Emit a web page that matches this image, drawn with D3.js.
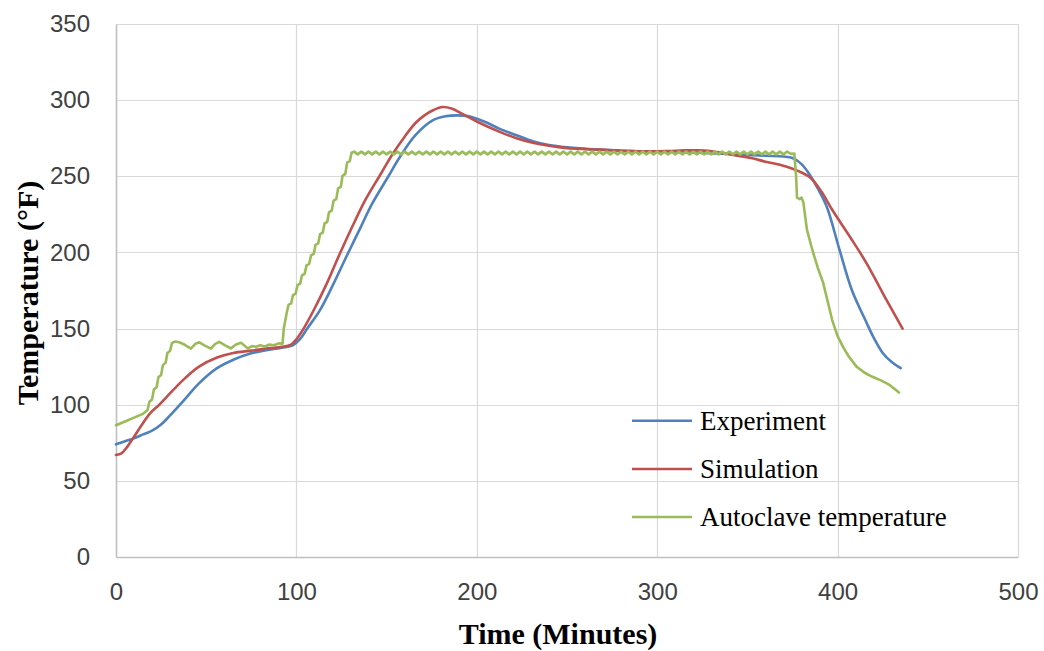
<!DOCTYPE html>
<html>
<head>
<meta charset="utf-8">
<script src="https://cdn.jsdelivr.net/npm/d3@7"></script>
<style>
  html, body { margin: 0; padding: 0; background: #fff; }
  svg { display: block; }
</style>
</head>
<body>
<svg id="chart" width="1044" height="651"></svg>
<script>
// ---- data ----
const xTicks = [0, 100, 200, 300, 400, 500];
const yTicks = [0, 50, 100, 150, 200, 250, 300, 350];
const seriesNames = ["Experiment", "Simulation", "Autoclave temperature"];

const experiment = [
  [0,74],[5,76],[10,78],[15,80.5],[20,83],[25,87],[30,93],[37,102],[46,114],[56,124],
  [65,129.5],[74,133.5],[84,136],[92,137.5],[98,139],[102,143],[106,150],[113,162],
  [120,178],[128,198],[135,215],[142,232],[151,250],[157,262],[166,277],[176,287],
  [183,289.5],[189,290],[195,289.5],[204,286],[213,281],[222,277],[231,273],[240,270.5],
  [250,269],[268,267.5],[286,266.5],[305,266],[323,265.5],[342,264.5],[360,263.5],
  [370,263],[375,262],[380,258],[384,252],[389,242],[394,230],[401,202],[408,175],
  [416,154],[420,144],[425,134],[430,128],[435,124]
];

const simulation = [
  [0,67],[3,68],[6,72],[10,79],[15,88],[19,94.5],[24,100],[28,105],[37,116],[46,125],
  [56,131],[65,134],[75,135.5],[84,137],[92,138],[97,139.5],[100,143],[104,150],[110,163],
  [117,180],[124,199],[131,217],[138,234],[147,252],[153,264],[160,276],[166,285],[171,290],
  [176,293.5],[181,295.5],[186,294.5],[192,291],[200,286],[213,279],[222,275],[231,272],
  [240,270],[250,268.5],[268,267.5],[286,266.5],[305,266.5],[315,267],[323,267],[333,266],
  [342,264],[352,262],[360,259.6],[368,257.5],[375,255],[380,252.5],[385,249],[391,240],
  [397,228],[407,210],[416,193],[427,169],[436,150]
];

const autoclave = [
  [0,86.5],[5,89],[10,91.5],[15,94],[17.5,96.5],[18.5,102],[20,103.5],[21,110],[22.5,111.5],
  [23.5,118],[25,119.5],[26,126],[27.5,127.5],[28.5,134],[30,135.5],[31,140.5],[32.5,141.5],
  [35,141],[37.9,139.5],[41.5,136.8],[44,140],[46.2,141],[49,139],[52.6,136.8],[55,140],
  [57.2,141.3],[60.5,139],[63.7,137],[66.5,139.5],[69.3,140.7],[71,139],[73,137],[75.5,138.5],
  [77.6,138],[80,139],[82.5,138.2],[85,139.5],[87.5,139],[90.5,140.3],[92.3,140],[93,150],
  [94.6,160],[95.6,165.5],[97.1,166.5],[98.1,172],[99.6,173],[100.6,178.5],[102.1,179.5],
  [103.1,185],[104.6,186],[105.6,191.5],[107.1,192.5],[108.1,198],[109.6,199],[110.6,205],
  [112.1,206],[113.1,212],[114.6,213],[115.6,219],[117.1,220],[118.1,226.5],[119.6,227.5],
  [120.6,234],[122.1,235],[123.1,242],[124.6,243],[125.6,250.5],[127.1,251.5],[128.1,259],
  [129.6,260],[130.6,265.5],
  [132,266.2],[134,264.4],[136,266.2],[138,264.4],[140,266.2],[142,264.4],[144,266.2],[146,264.4],
  [148,266.2],[150,264.4],[152,266.2],[154,264.4],[156,266.2],[158,264.4],[160,266.2],[162,264.4],
  [164,266.2],[166,264.4],[168,266.2],[170,264.4],[172,266.2],[174,264.4],[176,266.2],[178,264.4],
  [180,266.2],[182,264.4],[184,266.2],[186,264.4],[188,266.2],[190,264.4],[192,266.2],[194,264.4],
  [196,266.2],[198,264.4],[200,266.2],[202,264.4],[204,266.2],[206,264.4],[208,266.2],[210,264.4],
  [212,266.2],[214,264.4],[216,266.2],[218,264.4],[220,266.2],[222,264.4],[224,266.2],[226,264.4],
  [228,266.2],[230,264.4],[232,266.2],[234,264.4],[236,266.2],[238,264.4],[240,266.2],[242,264.4],
  [244,266.2],[246,264.4],[248,266.2],[250,264.4],[252,266.2],[254,264.4],[256,266.2],[258,264.4],
  [260,266.2],[262,264.4],[264,266.2],[266,264.4],[268,266.2],[270,264.4],[272,266.2],[274,264.4],
  [276,266.2],[278,264.4],[280,266.2],[282,264.4],[284,266.2],[286,264.4],[288,266.2],[290,264.4],
  [292,266.2],[294,264.4],[296,266.2],[298,264.4],[300,266.2],[302,264.4],[304,266.2],[306,264.4],
  [308,266.2],[310,264.4],[312,266.2],[314,264.4],[316,266.2],[318,264.4],[320,266.2],[322,264.4],
  [324,266.2],[326,264.4],[328,266.2],[330,264.4],[332,266.2],[334,264.4],[336,266.2],[338,264.4],
  [340,266.2],[342,264.4],[344,266.2],[346,264.4],[348,266.2],[350,264.4],[352,266.2],[354,264.4],
  [356,266.2],[358,264.4],[360,266.2],[362,264.4],[364,266.2],[366,264.4],[368,266.2],[370,264.4],
  [372,266.2],[374,264.8],[376,265],
  [377,250],[377.5,236],[379,235],[380,236],[381,233],[383,215],[386,201.6],[389,190],[392,180],
  [397,155.6],[400,145],[403,138],[406,132],[410.5,125],[415,121],[419,118.5],[424,116],
  [428.8,113],[432,110],[434,108]
];

// ---- chart ----
const colors = ["#4F81BD", "#C0504D", "#9BBB59"];
const svg = d3.select("#chart");
svg.append("rect").attr("width", 1044).attr("height", 651).attr("fill", "#fff");

const x = d3.scaleLinear().domain([0, 500]).range([116, 1018]);
const y = d3.scaleLinear().domain([0, 350]).range([557, 24]);

// gridlines
svg.append("g").selectAll("line").data(yTicks).join("line")
  .attr("x1", x(0)).attr("x2", x(500))
  .attr("y1", d => Math.round(y(d)) + 0.5).attr("y2", d => Math.round(y(d)) + 0.5)
  .attr("stroke", "#d9d9d9").attr("stroke-width", 1.2);
svg.append("g").selectAll("line").data(xTicks).join("line")
  .attr("y1", y(0)).attr("y2", y(350))
  .attr("x1", d => Math.round(x(d)) + 0.5).attr("x2", d => Math.round(x(d)) + 0.5)
  .attr("stroke", "#d9d9d9").attr("stroke-width", 1.2);

// axes
const tickFont = "'Liberation Sans', Arial, sans-serif";
const gx = svg.append("g").attr("transform", `translate(0,${y(0)})`)
  .call(d3.axisBottom(x).tickValues(xTicks).tickSize(0).tickPadding(26));
const gy = svg.append("g").attr("transform", `translate(${x(0)},0)`)
  .call(d3.axisLeft(y).tickValues(yTicks).tickSize(0).tickPadding(26));
[gx, gy].forEach(g => {
  g.select(".domain").attr("stroke", "#bfbfbf").attr("stroke-width", 1.5);
  g.selectAll("text").attr("font-family", tickFont).attr("font-size", 24).attr("fill", "#404040");
});

// lines
const smooth = d3.line().x(d => x(d[0])).y(d => y(d[1])).curve(d3.curveCatmullRom.alpha(0.5));
const straight = d3.line().x(d => x(d[0])).y(d => y(d[1]));
const series = [
  { data: experiment, gen: smooth },
  { data: simulation, gen: smooth },
  { data: autoclave, gen: straight }
];
series.forEach((s, i) => {
  svg.append("path").attr("d", s.gen(s.data))
    .attr("fill", "none").attr("stroke", colors[i]).attr("stroke-width", 2.6)
    .attr("stroke-linejoin", "round").attr("stroke-linecap", "round");
});

// axis titles
const serif = "'Liberation Serif', 'Times New Roman', serif";
svg.append("text").attr("x", 558).attr("y", 644).attr("text-anchor", "middle")
  .attr("font-family", serif).attr("font-weight", "bold").attr("font-size", 30)
  .attr("fill", "#000").text("Time (Minutes)");
svg.append("text").attr("transform", "translate(38,293) rotate(-90)").attr("text-anchor", "middle")
  .attr("font-family", serif).attr("font-weight", "bold").attr("font-size", 30)
  .attr("fill", "#000").text("Temperature (°F)");

// legend
const legendY = [420.7, 469, 517];
const lg = svg.append("g");
seriesNames.forEach((name, i) => {
  lg.append("line").attr("x1", 632).attr("x2", 692).attr("y1", legendY[i]).attr("y2", legendY[i])
    .attr("stroke", colors[i]).attr("stroke-width", 2.6);
  lg.append("text").attr("x", 700).attr("y", legendY[i] + 9)
    .attr("font-family", serif).attr("font-size", 27).attr("fill", "#000").text(name);
});
</script>
</body>
</html>
